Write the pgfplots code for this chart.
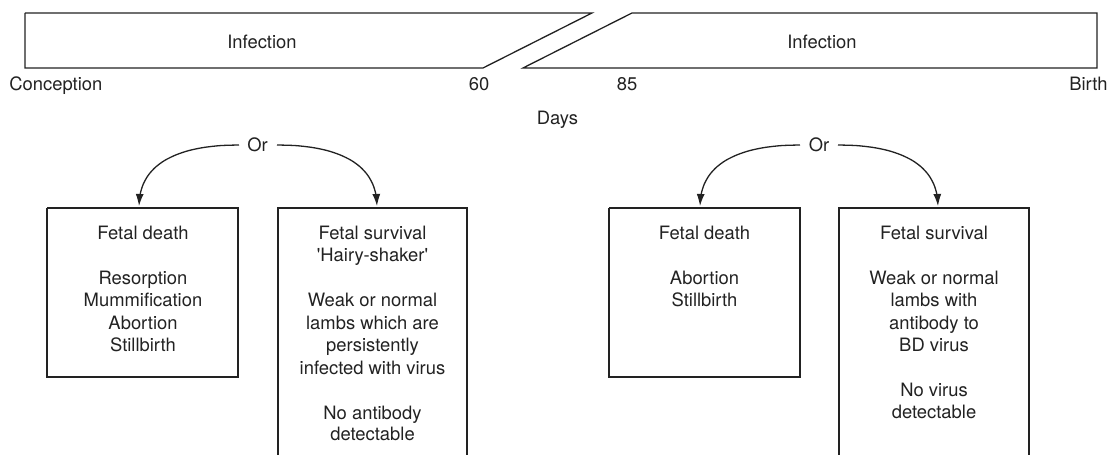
\documentclass[border=0pt]{standalone}
\usepackage{pgfplots}
\pgfplotsset{compat=1.18}
\usepackage{pgfplotstable}
\usepackage{fontspec}
\setmainfont{TeX Gyre Heros}
\usetikzlibrary{arrows.meta}
\definecolor{ink}{HTML}{222222}
\tikzset{lbl/.style={font=\fontsize{9.2}{11}\selectfont, text=ink, inner sep=0pt, anchor=base},
  ln/.style={draw=ink, line width=0.65pt, mark=none, solid},
  arr/.style={ln, smooth, -{Latex[length=6pt,width=4pt]}}}
\begin{document}
\pgfplotstableread{
dx y
100 145
81.4 145.6
64.6 147.5
49.7 150.6
36.7 155.0
25.6 160.5
16.5 167.2
9.3 175.2
4.2 184.3
1.05 194.6
0 206
}\curve
\begin{tikzpicture}
\begin{axis}[x=0.5pt, y=0.5pt, y dir=reverse,
  xmin=0, xmax=1116, ymin=0, ymax=455,
  hide axis, clip=false]
\path (axis cs:0,0) (axis cs:1116,455);
% top timeline shapes
\addplot [ln] coordinates {(25,13) (592,13) (483,68) (25,68) (25,13)};
\addplot [ln] coordinates {(632,13) (1097,13) (1097,68) (523,68) (632,13)};
% boxes
\addplot [ln] coordinates {(47,208) (238,208) (238,377) (47,377) (47,208)};
\addplot [ln] coordinates {(278,455) (278,208) (467,208) (467,455)};
\addplot [ln] coordinates {(609,208) (800,208) (800,377) (609,377) (609,208)};
\addplot [ln] coordinates {(839,455) (839,208) (1029,208) (1029,455)};
% curved arrows
\addplot [arr] table [x expr=139+\thisrow{dx}, y=y] {\curve};
\addplot [arr] table [x expr=377-\thisrow{dx}, y=y] {\curve};
\addplot [arr] table [x expr=700+\thisrow{dx}, y=y] {\curve};
\addplot [arr] table [x expr=938-\thisrow{dx}, y=y] {\curve};
% labels
\node[lbl] at (axis cs:262,48.5) {Infection};
\node[lbl] at (axis cs:822,48.5) {Infection};
\node[lbl, anchor=base west] at (axis cs:9,90.5) {Conception};
\node[lbl] at (axis cs:479,90.5) {60};
\node[lbl] at (axis cs:627,90.5) {85};
\node[lbl, anchor=base east] at (axis cs:1108,90.5) {Birth};
\node[lbl] at (axis cs:557.5,124.5) {Days};
\node[lbl] at (axis cs:257.5,151.5) {Or};
\node[lbl] at (axis cs:819,151.5) {Or};
% group 1 left box
\node[lbl] at (axis cs:143,239.5) {Fetal death};
\node[lbl] at (axis cs:143,284.5) {Resorption};
\node[lbl] at (axis cs:143,307) {Mummification};
\node[lbl] at (axis cs:143,329.5) {Abortion};
\node[lbl] at (axis cs:143,351.5) {Stillbirth};
% group 1 right box
\node[lbl] at (axis cs:372.5,239.5) {Fetal survival};
\node[lbl] at (axis cs:372.5,262) {\textquotesingle Hairy-shaker\textquotesingle};
\node[lbl] at (axis cs:372.5,307) {Weak or normal};
\node[lbl] at (axis cs:372.5,329.5) {lambs which are};
\node[lbl] at (axis cs:372.5,352) {persistently};
\node[lbl] at (axis cs:372.5,374.5) {infected with virus};
\node[lbl] at (axis cs:372.5,419.5) {No antibody};
\node[lbl] at (axis cs:372.5,440.5) {detectable};
% group 2 left box
\node[lbl] at (axis cs:704.5,239.5) {Fetal death};
\node[lbl] at (axis cs:704.5,284.5) {Abortion};
\node[lbl] at (axis cs:704.5,306.5) {Stillbirth};
% group 2 right box
\node[lbl] at (axis cs:934,239.5) {Fetal survival};
\node[lbl] at (axis cs:934,284.5) {Weak or normal};
\node[lbl] at (axis cs:934,307) {lambs with};
\node[lbl] at (axis cs:934,329.5) {antibody to};
\node[lbl] at (axis cs:934,351.5) {BD virus};
\node[lbl] at (axis cs:934,396.5) {No virus};
\node[lbl] at (axis cs:934,418.5) {detectable};
\end{axis}
\end{tikzpicture}
\end{document}
